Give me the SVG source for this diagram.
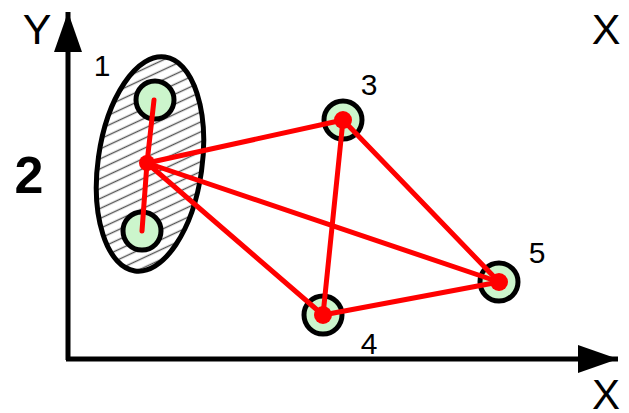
<svg xmlns="http://www.w3.org/2000/svg" width="629" height="413" viewBox="0 0 629 413">
<style>
.axis{stroke:#000;stroke-width:5;fill:none}
.edge{stroke:#ff0000;stroke-width:5;stroke-linecap:round}
.node{fill:#ccf5cc;stroke:#000;stroke-width:5}
.dot{fill:#ff0000}
.lbl{font-family:"Liberation Sans",Arial,sans-serif;fill:#000}
</style>
<defs>
<pattern id="hatch" patternUnits="userSpaceOnUse" width="9" height="9" patternTransform="rotate(-33)">
<line x1="0" y1="4.5" x2="9" y2="4.5" stroke="#555" stroke-width="1.4"/>
</pattern>
<marker id="arr" markerUnits="userSpaceOnUse" markerWidth="42" markerHeight="30" refX="40" refY="14" orient="auto">
<path d="M0,0 L40,14 L0,28 Z" fill="#000"/>
</marker>
</defs>
<g id="axes">
<line class="axis" x1="68" y1="360" x2="68" y2="12" marker-end="url(#arr)"/>
<line class="axis" x1="66" y1="359" x2="618" y2="359" marker-end="url(#arr)"/>
</g>
<g id="labels">
<text class="lbl" x="37" y="44" font-size="43" text-anchor="middle">Y</text>
<text class="lbl" x="606" y="44" font-size="43" text-anchor="middle">X</text>
<text class="lbl" x="606" y="409" font-size="42" text-anchor="middle">X</text>
<text class="lbl" x="29" y="193" font-size="52" font-weight="bold" text-anchor="middle">2</text>
</g>
<g id="cluster1">
<ellipse cx="150" cy="164" rx="52" ry="108" transform="rotate(8 150 164)" fill="url(#hatch)" stroke="#000" stroke-width="5"/>
<text class="lbl" x="102" y="76" font-size="30" text-anchor="middle">1</text>
<circle class="node" cx="155" cy="100" r="19"/>
<circle class="node" cx="142" cy="231" r="19"/>
</g>
<g id="node3">
<circle class="node" cx="343" cy="120" r="19"/>
<text class="lbl" x="369" y="95" font-size="30" text-anchor="middle">3</text>
</g>
<g id="node4">
<circle class="node" cx="323" cy="315" r="19"/>
<text class="lbl" x="369" y="354" font-size="30" text-anchor="middle">4</text>
</g>
<g id="node5">
<circle class="node" cx="499" cy="282" r="19"/>
<text class="lbl" x="537" y="263" font-size="30" text-anchor="middle">5</text>
</g>
<g id="connectors">
<line class="edge" x1="147" y1="163" x2="154" y2="100"/>
<line class="edge" x1="147" y1="163" x2="142" y2="231"/>
<line class="edge" x1="147" y1="163" x2="343" y2="120"/>
<line class="edge" x1="147" y1="163" x2="323" y2="315"/>
<line class="edge" x1="147" y1="163" x2="499" y2="282"/>
<line class="edge" x1="343" y1="120" x2="323" y2="315"/>
<line class="edge" x1="343" y1="120" x2="499" y2="282"/>
<line class="edge" x1="323" y1="315" x2="499" y2="282"/>
<circle class="dot" cx="147" cy="163" r="8"/>
<circle class="dot" cx="343" cy="120" r="9"/>
<circle class="dot" cx="323" cy="315" r="9"/>
<circle class="dot" cx="499" cy="282" r="9"/>
</g>
</svg>
